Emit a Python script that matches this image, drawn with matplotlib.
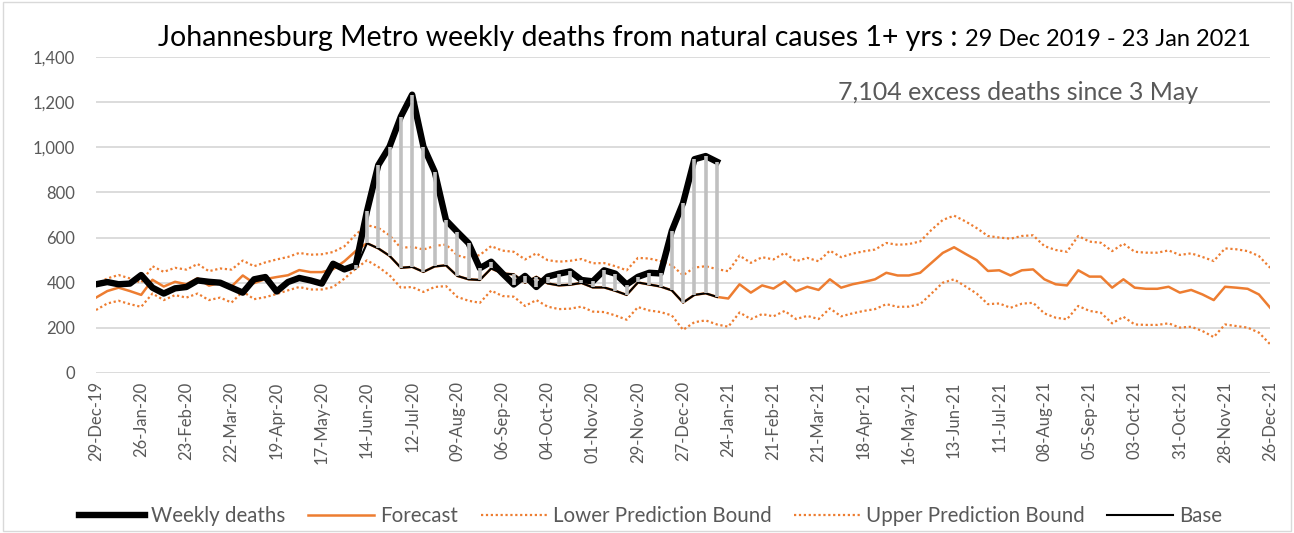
import numpy as np
import pandas as pd
import matplotlib
matplotlib.use("Agg")
import matplotlib.pyplot as plt
from matplotlib.ticker import FuncFormatter
from matplotlib.patches import Rectangle

plt.rcParams['font.family'] = ['Lato', 'DejaVu Sans']

# weekly categories, 29 Dec 2019 .. 26 Dec 2021
dates = pd.date_range('2019-12-29', periods=105, freq='7D')

weekly_deaths = [393, 403, 393, 396, 434, 378, 352, 375, 381, 410,
                 404, 400, 378, 356, 415, 425, 361, 403, 421, 410,
                 396, 484, 459, 477, 717, 921, 1003, 1136, 1233, 1003,
                 892, 677, 625, 575, 464, 493, 441, 392, 430, 381,
                 427, 440, 450, 412, 406, 455, 440, 392, 426, 444,
                 441, 630, 754, 947, 961, 936]

forecast = [334, 363, 378, 363, 346, 413, 383, 404, 393, 420,
            387, 400, 383, 432, 398, 416, 425, 433, 456, 447,
            447, 460, 495, 540, 575, 552, 519, 466, 470, 448,
            472, 477, 430, 415, 412, 463, 441, 437, 400, 426,
            397, 388, 391, 399, 379, 379, 364, 346, 401, 392,
            383, 366, 312, 346, 353, 337, 330, 393, 356, 388,
            374, 406, 362, 382, 368, 415, 378, 393, 403, 415,
            444, 432, 432, 444, 488, 532, 557, 528, 500, 452,
            455, 432, 455, 459, 415, 393, 388, 455, 427, 427,
            378, 415, 378, 373, 373, 382, 356, 368, 348, 323,
            382, 378, 373, 348, 289]

lower = [279, 308, 320, 305, 293, 352, 323, 345, 334, 352,
         323, 334, 312, 361, 327, 336, 350, 366, 381, 370,
         370, 381, 418, 462, 499, 470, 433, 378, 381, 359,
         381, 385, 337, 320, 311, 365, 341, 338, 297, 323,
         294, 283, 285, 294, 272, 270, 255, 236, 292, 277,
         270, 255, 191, 225, 233, 215, 205, 268, 239, 261,
         251, 275, 239, 253, 239, 286, 251, 264, 275, 283,
         305, 293, 294, 305, 352, 400, 415, 384, 352, 305,
         308, 289, 307, 311, 264, 245, 238, 297, 275, 267,
         220, 249, 215, 213, 213, 220, 201, 205, 186, 159,
         215, 208, 201, 179, 127]

upper = [393, 419, 434, 419, 400, 473, 448, 466, 458, 483,
         451, 463, 458, 498, 473, 490, 503, 514, 532, 524,
         526, 536, 561, 613, 655, 643, 610, 554, 559, 547,
         563, 569, 521, 508, 523, 562, 542, 537, 503, 530,
         500, 493, 497, 505, 486, 487, 473, 455, 510, 507,
         496, 477, 433, 467, 473, 460, 451, 520, 488, 513,
         503, 532, 495, 510, 495, 542, 513, 529, 539, 547,
         576, 568, 571, 583, 634, 678, 697, 672, 642, 607,
         600, 595, 607, 610, 562, 545, 537, 607, 582, 577,
         540, 573, 537, 533, 533, 543, 523, 530, 514, 496,
         552, 548, 540, 518, 466]

# base used for excess deaths (from mid 2020)
base = [None] * 23 + [462, 575, 552, 519, 466, 470, 448,
                      472, 477, 430, 415, 412, 463, 441, 437, 400, 426,
                      397, 388, 391, 399, 379, 379, 364, 346, 401, 392,
                      383, 366, 312, 346, 353, 337]

x_all = np.arange(len(dates))
x_obs = np.arange(len(weekly_deaths))
base_arr = np.array([np.nan if b is None else b for b in base], dtype=float)

fig = plt.figure(figsize=(12.94, 5.33), dpi=100)
ax = fig.add_axes([0.0742, 0.3002, 0.9074, 0.5929])

orange = '#ED7D31'
ax.plot(x_all, forecast, color=orange, lw=1.8, label='Forecast', zorder=3)
ax.plot(x_all, lower, color=orange, lw=1.6, ls=(0, (1, 1.2)), label='Lower Prediction Bound', zorder=3)
ax.plot(x_all, upper, color=orange, lw=1.6, ls=(0, (1, 1.2)), label='Upper Prediction Bound', zorder=3)
ax.plot(x_obs, weekly_deaths, color='black', lw=4.6, label='Weekly deaths', zorder=4,
        solid_joinstyle='round')
ax.plot(x_obs, base_arr, color='black', lw=1.5, label='Base', zorder=5)

# high-low lines between weekly deaths and base
ok = ~np.isnan(base_arr)
ax.vlines(x_obs[ok], base_arr[ok], np.array(weekly_deaths)[ok], color='#C0C0C0', lw=2.6, zorder=6)

ax.set_xlim(0, 104)
ax.set_ylim(0, 1400)
ax.set_yticks(range(0, 1401, 200))
ax.yaxis.set_major_formatter(FuncFormatter(lambda v, p: f'{int(v):,}'))
ax.set_xticks(x_all[::4])
ax.set_xticklabels([d.strftime('%d-%b-%y') for d in dates[::4]], rotation=90)
ax.yaxis.grid(True, color='#D9D9D9', lw=1.3)
ax.set_axisbelow(True)
for s in ax.spines.values():
    s.set_visible(False)
ax.tick_params(axis='both', length=0, colors='#595959')
ax.tick_params(axis='y', pad=15, labelsize=12)
ax.tick_params(axis='x', pad=6, labelsize=12)

# legend in the Excel order
h, l = ax.get_legend_handles_labels()
order = ['Weekly deaths', 'Forecast', 'Lower Prediction Bound', 'Upper Prediction Bound', 'Base']
hh = [h[l.index(o)] for o in order]
leg = fig.legend(hh, order, loc='center', bbox_to_anchor=(0.503, 0.032), ncol=5, frameon=False,
                 fontsize=14.8, handlelength=3.2, handletextpad=0.3, columnspacing=1.1)
for t in leg.get_texts():
    t.set_color('#595959')

# title in two sizes
t1 = fig.text(158 / 1294, 1 - 46 / 533, 'Johannesburg Metro weekly deaths from natural causes 1+ yrs : ',
              fontsize=20.5, va='baseline', ha='left', color='black')
fig.canvas.draw()
bb = t1.get_window_extent()
fig.text(bb.x1 / fig.bbox.width, 1 - 46 / 533, '29 Dec 2019 - 23 Jan 2021',
         fontsize=17, va='baseline', ha='left', color='black')

fig.text(838 / 1294, 1 - 92 / 533, '7,104 excess deaths since 3 May', fontsize=18,
         color='#595959', va='center', ha='left')

fig.patches.append(Rectangle((0.002, 0.004), 0.996, 0.992, transform=fig.transFigure,
                             fill=False, ec='#D9D9D9', lw=1))

fig.savefig('out.png', dpi=100)
